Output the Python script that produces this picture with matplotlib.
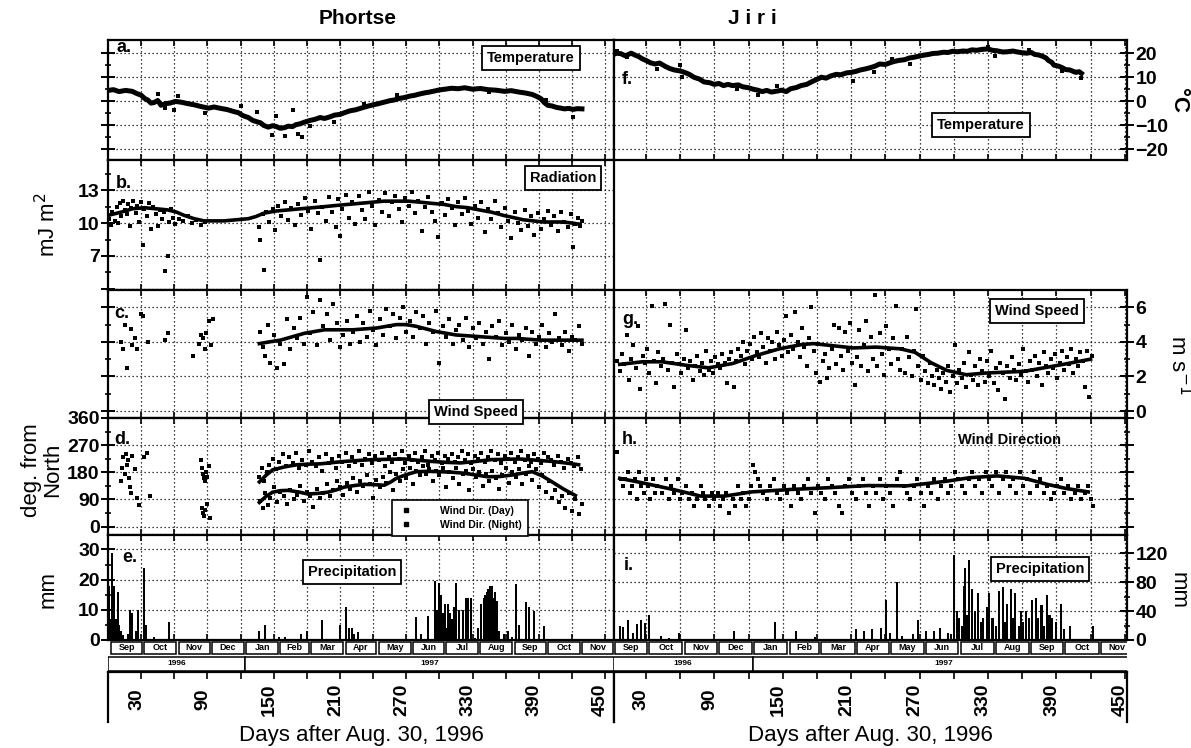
import numpy as np
import matplotlib
matplotlib.use('Agg')
import matplotlib.pyplot as plt
from matplotlib.patches import Rectangle
from matplotlib.lines import Line2D

plt.rcParams['font.family'] = ['Liberation Sans', 'DejaVu Sans']

# ---- Phortse ----
temp_p_day = [0, 5, 10, 16, 22, 26, 30, 33, 36, 39, 42, 45, 48, 52, 56, 61, 66, 72, 78, 84, 91, 96,
              102, 108, 113, 118, 122, 127, 131, 135, 138, 141, 145, 149, 152, 156, 160, 163, 167,
              170, 174, 178, 183, 187, 192, 196, 201, 205, 210, 214, 219, 224, 229, 234, 240, 245,
              250, 255, 259, 264, 268, 273, 278, 282, 287, 291, 296, 300, 305, 311, 317, 323, 330,
              337, 344, 351, 359, 365, 372, 378, 384, 388, 392, 395, 398, 402, 406, 410, 413, 417,
              421, 425, 429]
temp_p_val = [4.5, 4.8, 4.0, 4.5, 4.1, 3.2, 2.5, 1.2, 0.5, -0.8, -0.5, 0.3, -1.7, -1.0, -0.8, -0.1,
              -0.4, -1.0, -1.5, -2.2, -2.9, -2.4, -3.0, -3.5, -4.2, -4.8, -6.0, -6.8, -8.0, -8.6,
              -9.0, -10.1, -10.8, -10.2, -10.5, -11.3, -11.0, -10.4, -10.6, -9.8, -9.4, -8.7, -8.0,
              -7.6, -6.8, -7.2, -6.5, -5.8, -5.5, -4.8, -4.0, -3.6, -2.9, -2.2, -1.5, -1.0, -0.4,
              0.2, 0.5, 1.2, 1.5, 2.1, 2.5, 3.0, 3.5, 3.8, 4.3, 4.7, 5.0, 5.4, 5.2, 5.6, 5.0, 5.3,
              4.8, 4.6, 4.1, 4.4, 3.8, 3.4, 2.8, 2.0, 1.0, -0.6, -1.7, -2.0, -2.6, -2.9, -3.2, -3.0,
              -3.4, -3.1, -3.2]
temp_p_pts = [(45, 3.0), (52, -2.8), (60, -3.5), (63, 2.0), (88, -5.0), (120, -1.8), (135, -4.5),
              (148, -14.0), (152, -6.0), (160, -14.5), (167, -3.6), (172, -13.5), (176, -15.0),
              (183, -10.5), (205, -8.5), (232, -1.0), (262, 2.5), (345, 4.0), (396, 0.5), (421, -6.5)]

rad_day = [0, 12, 22, 33, 44, 54, 62, 69, 78, 87, 96, 105, 116, 127, 134, 141, 152, 163, 174, 185,
           196, 206, 217, 228, 239, 250, 261, 272, 283, 293, 304, 315, 326, 336, 347, 358, 367, 376,
           385, 394, 403, 412, 420, 427]
rad_val = [10.7, 11.0, 11.3, 11.4, 11.3, 11.2, 11.0, 10.7, 10.4, 10.2, 10.2, 10.2, 10.3, 10.4, 10.6,
           10.9, 11.1, 11.2, 11.3, 11.4, 11.5, 11.6, 11.7, 11.8, 11.9, 12.0, 12.0, 12.0, 11.9, 11.8,
           11.7, 11.5, 11.4, 11.2, 11.0, 10.7, 10.5, 10.3, 10.2, 10.1, 10.1, 10.1, 10.0, 9.9]
rad_pts = [(1, 10.4), (3, 9.8), (4, 11.0), (6, 10.2), (8, 11.5), (9, 10.0), (11, 11.8), (12, 10.6),
           (14, 12.0), (15, 11.2), (17, 10.8), (18, 11.7), (20, 9.7), (21, 11.4), (23, 12.0), (25, 10.9),
           (26, 11.6), (28, 10.1), (30, 11.9), (32, 8.0), (33, 11.3), (35, 10.6), (37, 11.8), (39, 9.5),
           (41, 11.5), (43, 10.8), (45, 9.7), (47, 11.2), (49, 10.4), (51, 11.0), (52, 5.6), (54, 7.0),
           (55, 10.1), (57, 11.3), (59, 10.5), (61, 9.9), (64, 10.4), (68, 10.2), (72, 10.6), (76, 10.0),
           (80, 10.3), (84, 9.8), (88, 10.1), (137, 9.6), (138, 8.5), (140, 10.8), (141, 5.7),
           (143, 11.0), (146, 10.1), (149, 11.3), (151, 9.4), (154, 11.6), (157, 10.6), (160, 11.9),
           (163, 10.3), (166, 11.4), (169, 9.8), (172, 11.7), (175, 10.7), (178, 12.3), (181, 11.1),
           (184, 9.5), (187, 12.0), (190, 10.9), (192, 6.6), (194, 11.5), (197, 10.2), (200, 12.4),
           (203, 11.0), (206, 9.6), (208, 12.2), (210, 8.8), (212, 11.3), (215, 12.6), (218, 10.5),
           (221, 11.9), (224, 9.9), (227, 12.5), (230, 11.2), (233, 10.4), (236, 12.8), (239, 11.6),
           (242, 9.8), (245, 12.1), (248, 11.0), (251, 12.7), (254, 10.6), (257, 11.9), (260, 12.5),
           (263, 11.3), (266, 10.1), (269, 12.3), (272, 11.6), (275, 12.8), (278, 10.9), (281, 12.0),
           (284, 9.3), (287, 11.5), (290, 12.4), (293, 11.0), (296, 10.2), (299, 8.7), (302, 11.8),
           (305, 10.7), (308, 12.2), (311, 11.4), (314, 9.8), (317, 11.9), (320, 10.8), (323, 12.3),
           (326, 11.1), (329, 9.9), (332, 11.6), (335, 10.5), (338, 11.9), (341, 9.2), (344, 11.3),
           (347, 10.4), (350, 12.0), (353, 10.9), (356, 9.6), (359, 11.4), (362, 10.2), (365, 8.6),
           (368, 11.0), (371, 10.0), (374, 9.4), (377, 11.2), (380, 9.7), (383, 10.6), (386, 8.9),
           (389, 10.9), (392, 9.5), (395, 10.4), (398, 11.1), (401, 9.8), (404, 10.6), (407, 9.3),
           (410, 11.0), (413, 10.1), (416, 9.6), (419, 10.8), (421, 7.8), (423, 9.9), (425, 10.5),
           (427, 9.7), (429, 10.2)]

ws_p_day = [137, 146, 156, 167, 178, 187, 196, 209, 222, 232, 243, 252, 261, 270, 279, 288, 297, 306,
            315, 326, 337, 348, 359, 370, 381, 392, 402, 415, 429]
ws_p_val = [3.9, 4.0, 4.1, 4.3, 4.5, 4.6, 4.7, 4.7, 4.7, 4.75, 4.8, 4.9, 5.0, 5.0, 4.9, 4.75, 4.6,
            4.5, 4.4, 4.35, 4.3, 4.25, 4.2, 4.2, 4.15, 4.1, 4.1, 4.1, 4.1]
ws_p_pts = [(12, 4.0), (14, 3.6), (15, 5.0), (17, 2.5), (21, 4.75), (22, 3.8), (24, 4.2), (26, 3.6),
            (30, 5.6), (32, 5.5), (36, 4.0), (52, 4.1), (54, 4.5), (77, 3.2), (82, 3.9), (84, 4.4),
            (86, 4.2), (88, 3.6), (89, 4.5), (91, 5.2), (93, 3.8), (95, 5.3),
            (138, 4.6), (140, 3.7), (142, 3.2), (145, 5.0), (147, 2.8), (150, 4.4), (153, 2.5),
            (156, 3.9), (159, 2.7), (162, 5.3), (165, 3.6), (168, 4.8), (171, 4.2), (174, 5.4),
            (177, 3.9), (180, 6.6), (183, 4.5), (186, 5.7), (189, 3.8), (192, 6.4), (195, 4.9),
            (198, 5.6), (201, 4.1), (204, 6.2), (207, 5.1), (210, 3.7), (213, 4.4), (216, 5.2),
            (219, 3.9), (222, 4.6), (225, 5.5), (228, 4.0), (231, 5.1), (234, 4.3), (237, 5.8),
            (240, 4.7), (243, 3.8), (246, 5.3), (249, 4.4), (252, 5.9), (255, 4.9), (258, 5.6),
            (261, 4.2), (264, 5.4), (267, 6.0), (270, 4.6), (273, 5.2), (276, 4.3), (279, 5.7),
            (282, 4.8), (285, 5.5), (288, 3.9), (291, 5.1), (294, 4.6), (297, 5.8), (300, 2.8),
            (303, 4.9), (306, 4.3), (309, 5.3), (312, 3.9), (315, 4.7), (318, 5.0), (321, 4.1),
            (324, 5.4), (327, 3.7), (330, 4.8), (333, 4.2), (336, 5.1), (339, 3.9), (342, 4.6),
            (345, 3.0), (348, 4.9), (351, 4.3), (354, 5.2), (357, 3.8), (360, 4.5), (363, 4.0),
            (366, 5.0), (369, 3.6), (372, 4.4), (375, 4.1), (378, 4.8), (381, 3.2), (384, 4.6),
            (387, 3.9), (390, 4.3), (393, 5.0), (396, 3.7), (399, 4.5), (402, 4.0), (405, 5.6),
            (408, 4.2), (411, 3.8), (414, 4.6), (417, 3.5), (420, 4.3), (423, 4.1), (426, 4.9),
            (429, 3.9)]

wd_day_d = [137, 143, 149, 160, 171, 182, 192, 203, 214, 226, 239, 253, 268, 280, 293, 306, 319,
            333, 347, 360, 373, 388, 402, 414, 426]
wd_day_v = [148, 170, 188, 198, 205, 207, 208, 212, 216, 219, 222, 223, 224, 220, 216, 213, 211,
            216, 222, 223, 224, 220, 216, 211, 205]
wd_night_d = [137, 143, 149, 156, 163, 172, 181, 190, 199, 207, 214, 223, 232, 241, 250, 256, 261,
              270, 279, 290, 301, 312, 322, 333, 344, 355, 366, 375, 384, 393, 402, 412, 423]
wd_night_v = [80, 100, 114, 119, 120, 115, 108, 110, 114, 122, 131, 136, 140, 139, 137, 148, 160,
              172, 182, 183, 182, 180, 177, 171, 165, 166, 171, 177, 182, 168, 148, 125, 103]
wd_p_pts = [(12, 150), (13, 195), (14, 230), (15, 175), (16, 240), (17, 205), (18, 220), (19, 160),
            (20, 130), (21, 110), (22, 235), (24, 190), (26, 95), (28, 70), (33, 230), (35, 245),
            (38, 100), (84, 220), (85, 195), (86, 175), (87, 160), (88, 150), (89, 180), (90, 165),
            (91, 200), (85, 60), (86, 45), (87, 35), (88, 55), (90, 75), (92, 30),
            (137, 165), (138, 85), (139, 195), (140, 60), (141, 150), (142, 110), (144, 180), (145, 70),
            (146, 205), (147, 95), (149, 225), (150, 130), (152, 190), (153, 80), (155, 215), (156, 115),
            (158, 240), (159, 100), (161, 200), (162, 75), (164, 230), (165, 120), (167, 210), (168, 90),
            (170, 245), (171, 105), (173, 195), (174, 135), (176, 220), (177, 85), (179, 205), (180, 115),
            (182, 250), (183, 100), (185, 215), (186, 65), (188, 200), (189, 125), (191, 230), (192, 95),
            (194, 185), (195, 110), (197, 240), (198, 140), (200, 210), (201, 100), (203, 225), (204, 120),
            (206, 195), (207, 150), (209, 235), (210, 130), (212, 215), (213, 105), (215, 245), (216, 145),
            (218, 200), (219, 125), (221, 230), (222, 160), (224, 215), (225, 115), (227, 250), (228, 150),
            (230, 205), (231, 135), (233, 225), (234, 170), (236, 240), (237, 140), (239, 210), (240, 95),
            (242, 235), (243, 155), (245, 220), (246, 130), (248, 245), (249, 165), (251, 200), (252, 145),
            (254, 230), (255, 180), (257, 215), (258, 120), (260, 240), (261, 175), (263, 225), (264, 150),
            (266, 250), (267, 190), (269, 210), (270, 160), (272, 235), (273, 195), (275, 220), (276, 140),
            (278, 245), (279, 185), (281, 215), (282, 170), (284, 230), (285, 200), (287, 250), (288, 175),
            (290, 205), (291, 190), (293, 235), (294, 150), (296, 220), (297, 185), (299, 245), (300, 170),
            (302, 210), (303, 195), (305, 235), (306, 130), (308, 225), (309, 180), (311, 240), (312, 160),
            (314, 215), (315, 195), (317, 230), (318, 140), (320, 250), (321, 175), (323, 220), (324, 185),
            (326, 240), (327, 120), (329, 210), (330, 190), (332, 235), (333, 165), (335, 225), (336, 180),
            (338, 245), (339, 135), (341, 215), (342, 175), (344, 230), (345, 150), (347, 250), (348, 185),
            (350, 220), (351, 160), (353, 240), (354, 125), (356, 210), (357, 170), (359, 235), (360, 195),
            (362, 225), (363, 145), (365, 245), (366, 180), (368, 215), (369, 165), (371, 230), (372, 190),
            (374, 250), (375, 140), (377, 220), (378, 175), (380, 235), (381, 200), (383, 215), (384, 155),
            (386, 240), (387, 190), (389, 225), (390, 130), (392, 210), (393, 170), (395, 245), (396, 115),
            (398, 230), (399, 150), (401, 220), (402, 95), (404, 205), (405, 120), (407, 235), (408, 80),
            (410, 215), (411, 100), (413, 195), (414, 60), (416, 225), (417, 110), (419, 210), (420, 50),
            (422, 200), (423, 90), (425, 230), (426, 40), (428, 190), (429, 75)]

prec_p_day = [1, 2, 4, 5, 7, 9, 10, 12, 14, 18, 20, 22, 25, 27, 33, 34, 42, 55, 137, 142, 155, 160,
              175, 180, 194, 210, 215, 218, 221, 223, 226, 279, 283, 290, 296, 298, 300, 301, 303, 305,
              306, 308, 310, 311, 313, 315, 318, 321, 324, 326, 329, 332, 335, 338, 340, 341, 342, 343,
              344, 345, 346, 347, 348, 349, 350, 351, 352, 354, 358, 362, 366, 369, 372, 378, 381, 386, 395]
prec_p_val = [18, 7, 29, 18, 7, 16, 5, 3, 1.5, 2, 10, 9, 3, 10, 24, 5, 1, 6, 3, 5, 1, 1,
              2, 3, 6.5, 5, 11, 4, 4, 2, 2.5, 7.5, 2, 8, 19.5, 10, 19, 15, 9, 12,
              4, 12, 9, 7, 11, 19, 10, 10, 14, 14, 14, 0.5, 4, 12, 14, 15, 13, 16,
              17, 16, 18, 15, 18, 14, 16, 12, 13, 3, 2, 3, 1, 18.5, 5, 12.5, 11, 9.5, 4.5]

# ---- Jiri ----
temp_j_day = [0, 4, 8, 12, 17, 21, 24, 27, 30, 34, 38, 42, 47, 51, 55, 60, 64, 68, 72, 77, 81, 86,
              90, 94, 98, 102, 106, 111, 115, 120, 124, 128, 132, 136, 140, 145, 149, 153, 157, 162,
              166, 171, 175, 180, 184, 188, 192, 197, 201, 206, 210, 214, 218, 223, 227, 231, 235,
              240, 244, 248, 252, 257, 261, 265, 269, 274, 278, 282, 286, 291, 295, 299, 303, 308,
              312, 316, 320, 325, 330, 334, 338, 343, 347, 352, 356, 360, 364, 368, 371, 375, 378,
              381, 383, 386, 388, 392, 395, 398, 402, 405, 407, 410, 412]
temp_j_val = [19.0, 20.0, 19.8, 18.9, 20.0, 19.1, 18.5, 17.6, 17.0, 16.0, 15.5, 15.9, 14.5, 13.6,
              13.0, 12.6, 12.0, 11.2, 10.0, 9.2, 8.0, 7.7, 7.0, 7.4, 6.5, 7.0, 6.5, 6.8, 6.0, 5.6,
              5.0, 4.6, 4.0, 4.5, 3.8, 4.2, 4.6, 4.0, 5.2, 5.7, 6.5, 7.0, 8.0, 9.1, 10.0, 9.6, 10.5,
              11.2, 11.0, 11.8, 12.0, 12.4, 13.0, 13.5, 14.0, 14.6, 15.5, 15.3, 16.0, 16.6, 17.0,
              17.3, 18.0, 18.3, 18.7, 19.2, 19.5, 19.9, 20.0, 20.4, 20.3, 20.8, 20.6, 20.9, 20.8,
              21.4, 21.2, 21.6, 21.8, 21.2, 21.0, 20.5, 20.6, 20.9, 20.5, 20.2, 20.0, 20.3, 19.5,
              19.2, 18.7, 18.0, 17.0, 16.2, 15.0, 14.6, 14.0, 13.2, 13.0, 12.4, 12.0, 12.3, 11.6]
temp_j_pts = [(5, 21.0), (13, 18.5), (40, 13.5), (60, 15.0), (62, 10.0), (110, 5.0), (128, 2.5),
              (145, 6.5), (212, 8.5), (230, 12.0), (246, 17.5), (262, 15.5), (330, 22.5), (336, 19.0),
              (366, 21.5), (395, 12.5), (412, 9.5)]

ws_j_day = [7, 27, 44, 65, 85, 106, 126, 147, 167, 177, 191, 212, 232, 253, 266, 280, 294, 311, 328,
            345, 362, 379, 396, 420]
ws_j_val = [2.7, 2.85, 2.85, 2.65, 2.5, 2.75, 3.2, 3.6, 3.85, 3.9, 3.8, 3.65, 3.7, 3.6, 3.4, 2.8,
            2.35, 2.1, 2.2, 2.25, 2.3, 2.5, 2.7, 3.0]
ws_j_pts = [(5, 2.9), (7, 2.3), (9, 3.3), (11, 2.7), (13, 4.4), (15, 1.8), (17, 3.0), (19, 3.8),
            (21, 2.5), (23, 4.9), (25, 1.3), (27, 3.2), (29, 2.8), (31, 3.6), (33, 2.2), (35, 6.1),
            (37, 2.9), (39, 1.6), (41, 3.4), (43, 2.6), (45, 3.0), (47, 6.2), (49, 2.4), (51, 5.0),
            (53, 2.8), (55, 1.4), (57, 3.3), (59, 2.7), (61, 2.2), (63, 3.0), (65, 4.7), (67, 2.5),
            (69, 2.9), (71, 1.8), (73, 2.6), (75, 3.2), (77, 2.3), (79, 2.8), (81, 2.1), (83, 3.5),
            (85, 2.4), (87, 2.9), (89, 2.2), (91, 3.1), (93, 2.7), (95, 2.5), (97, 3.3), (99, 2.8),
            (101, 1.6), (103, 3.0), (105, 3.4), (107, 1.4), (109, 2.9), (111, 3.6), (113, 3.2),
            (115, 4.0), (117, 2.7), (119, 3.5), (121, 3.9), (123, 3.0), (125, 4.3), (127, 3.4),
            (129, 3.1), (131, 4.5), (133, 3.7), (135, 2.8), (137, 4.2), (139, 3.5), (141, 4.0),
            (143, 3.0), (145, 4.6), (147, 3.8), (149, 3.2), (151, 4.1), (153, 5.5), (155, 3.4),
            (157, 4.4), (159, 3.6), (161, 5.7), (163, 4.0), (165, 3.1), (167, 4.8), (169, 3.7),
            (171, 2.6), (173, 4.2), (175, 6.0), (177, 3.5), (179, 2.2), (181, 3.9), (183, 1.7),
            (185, 2.9), (187, 3.3), (189, 1.9), (191, 2.5), (193, 3.6), (195, 5.0), (197, 2.7),
            (199, 4.8), (201, 3.2), (203, 2.4), (205, 4.6), (207, 3.5), (209, 5.1), (211, 2.8),
            (213, 1.5), (215, 3.1), (217, 4.7), (219, 2.6), (221, 3.8), (223, 5.2), (225, 2.3),
            (227, 4.3), (229, 3.0), (231, 6.7), (233, 2.6), (235, 4.5), (237, 3.3), (239, 2.1),
            (241, 4.9), (243, 3.6), (245, 2.7), (247, 4.2), (249, 6.1), (251, 3.0), (253, 2.4),
            (255, 3.6), (257, 2.2), (259, 4.3), (261, 3.1), (263, 2.0), (265, 3.5), (267, 5.9),
            (269, 2.6), (271, 1.8), (273, 3.2), (275, 2.3), (277, 1.6), (279, 2.8), (281, 2.0),
            (283, 1.5), (285, 2.4), (287, 1.9), (289, 1.3), (291, 2.2), (293, 1.7), (295, 2.6),
            (297, 1.1), (299, 2.0), (301, 3.8), (303, 1.6), (305, 2.4), (307, 1.9), (309, 2.8),
            (311, 1.4), (313, 3.4), (315, 2.1), (317, 1.8), (319, 2.6), (321, 1.5), (323, 3.0),
            (325, 2.3), (327, 1.7), (329, 2.9), (331, 2.0), (333, 3.5), (335, 1.6), (337, 2.5),
            (339, 1.2), (341, 2.8), (343, 2.2), (345, 0.7), (347, 2.6), (349, 1.9), (351, 3.1),
            (353, 2.4), (355, 1.8), (357, 2.7), (359, 2.1), (361, 3.6), (363, 2.3), (365, 1.7),
            (367, 2.9), (369, 2.4), (371, 3.2), (373, 2.0), (375, 2.8), (377, 1.5), (379, 3.4),
            (381, 2.6), (383, 2.2), (385, 3.0), (387, 2.5), (389, 3.3), (391, 1.9), (393, 2.8),
            (395, 3.5), (397, 2.4), (399, 3.1), (401, 2.7), (403, 3.6), (405, 2.2), (407, 3.0),
            (409, 2.6), (411, 3.4), (413, 2.9), (415, 1.4), (417, 3.5), (419, 0.8), (421, 3.2)]

wd_j_day = [7, 27, 55, 78, 99, 123, 157, 191, 225, 259, 293, 314, 338, 362, 382, 399, 418]
wd_j_val = [160, 145, 122, 101, 101, 115, 123, 129, 136, 135, 150, 162, 168, 160, 140, 126, 115]
wd_j_pts = [(5, 247.5), (8, 157.5), (10, 135), (12, 157.5), (14, 180), (16, 112.5), (18, 135),
            (20, 157.5), (22, 90), (24, 180), (26, 135), (28, 112.5), (30, 157.5), (32, 135), (34, 90),
            (36, 157.5), (38, 112.5), (40, 135), (44, 112.5), (48, 157.5), (50, 90), (52, 135),
            (55, 112.5), (58, 157.5), (60, 90), (62, 112.5), (65, 135), (68, 90), (70, 112.5),
            (72, 67.5), (75, 90), (78, 135), (80, 112.5), (82, 90), (85, 67.5), (88, 112.5), (90, 90),
            (93, 112.5), (95, 67.5), (98, 90), (100, 112.5), (103, 45), (106, 90), (108, 67.5),
            (111, 135), (113, 90), (115, 112.5), (118, 67.5), (120, 90), (122, 135), (124, 202.5),
            (126, 180), (128, 157.5), (130, 135), (133, 112.5), (136, 90), (139, 135), (142, 157.5),
            (145, 112.5), (148, 90), (151, 135), (154, 112.5), (157, 67.5), (160, 135), (163, 112.5),
            (166, 90), (169, 135), (172, 157.5), (175, 112.5), (178, 45), (181, 135), (184, 112.5),
            (187, 90), (190, 157.5), (193, 135), (196, 112.5), (199, 67.5), (202, 45), (205, 135),
            (208, 157.5), (211, 112.5), (214, 90), (217, 135), (220, 157.5), (223, 112.5), (226, 67.5),
            (229, 135), (232, 112.5), (235, 157.5), (238, 90), (241, 135), (244, 112.5), (247, 67.5),
            (250, 157.5), (253, 180), (256, 135), (259, 112.5), (262, 90), (265, 135), (268, 157.5),
            (271, 112.5), (274, 67.5), (277, 135), (280, 112.5), (283, 157.5), (286, 90), (289, 135),
            (292, 157.5), (295, 112.5), (298, 135), (301, 180), (304, 157.5), (307, 135), (310, 112.5),
            (313, 157.5), (316, 180), (319, 135), (322, 157.5), (325, 112.5), (328, 180), (331, 157.5),
            (334, 135), (337, 180), (340, 112.5), (343, 157.5), (346, 180), (349, 135), (352, 157.5),
            (355, 112.5), (358, 180), (361, 135), (364, 157.5), (367, 112.5), (370, 180), (373, 135),
            (376, 157.5), (379, 112.5), (382, 135), (385, 90), (388, 112.5), (391, 135), (394, 157.5),
            (397, 112.5), (400, 135), (403, 90), (406, 112.5), (409, 135), (412, 90), (415, 112.5),
            (418, 135), (420, 90), (422, 67.5)]

prec_j_day = [7, 10, 14, 19, 22, 26, 29, 33, 43, 50, 59, 107, 143, 162, 178, 197, 214, 221, 228, 236,
              241, 244, 250, 255, 264, 269, 276, 283, 288, 295, 298, 300, 303, 305, 307, 309, 310, 312,
              313, 316, 319, 321, 324, 326, 329, 331, 334, 337, 340, 343, 345, 347, 350, 352, 354, 357,
              359, 361, 363, 366, 369, 372, 374, 377, 379, 382, 384, 386, 390, 394, 397, 402, 422]
prec_j_val = [20, 18, 28, 10, 22, 28, 24, 35, 5, 3, 10, 12, 25, 13, 4, 2, 15, 13, 15, 17,
              55, 10, 80, 5, 8, 28, 12, 13, 17, 10, 8, 118, 40, 30, 20, 75, 100, 35,
              110, 70, 40, 65, 25, 30, 45, 65, 30, 20, 68, 73, 25, 50, 70, 30, 65, 20,
              40, 25, 40, 30, 55, 58, 30, 48, 20, 62, 35, 30, 25, 50, 15, 20, 20]

# calendar strip under the panels (day 0 = Aug 30, 1996)
month_names = ['Sep', 'Oct', 'Nov', 'Dec', 'Jan', 'Feb', 'Mar', 'Apr', 'May', 'Jun', 'Jul', 'Aug',
               'Sep', 'Oct', 'Nov']
month_start = [2, 32, 63, 93, 124, 155, 183, 214, 244, 275, 305, 336, 367, 397, 428, 458]
year_names = ['1996', '1997']
year_start = [0, 124, 458]
day_labels = [30, 90, 150, 210, 270, 330, 390, 450]

W, H = 1191, 748
fig = plt.figure(figsize=(W / 100, H / 100), dpi=100)


def box(x0, y0, x1, y1):
    return [x0 / W, 1 - y1 / H, (x1 - x0) / W, (y1 - y0) / H]


def ftext(x, y, s, **kw):
    fig.text(x / W, 1 - y / H, s, **kw)


COLS = {'L': (108, 614, (0, 458)), 'R': (614, 1127, (2, 452))}
ROWS = [(40, 160), (160, 290), (290, 418), (418, 535), (535, 640)]
GRID = dict(color='black', ls=(0, (1, 2.2)), lw=0.9)


def panel(col, row, ylim, yticks, labels=True, minor=None):
    x0, x1, xl = COLS[col]
    y0, y1 = ROWS[row]
    ax = fig.add_axes(box(x0, y0, x1, y1))
    ax.set_xlim(xl)
    ax.set_ylim(ylim)
    ax.set_xticks(np.arange(30, 451, 30))
    ax.set_xticklabels([])
    ax.set_yticks(yticks)
    if minor is not None:
        ax.set_yticks(minor, minor=True)
    ax.grid(True, **GRID)
    ax.set_axisbelow(True)
    for sp in ax.spines.values():
        sp.set_linewidth(1.6)
    ax.tick_params(axis='x', direction='in', length=4, width=1.2, top=True)
    side = 'left' if col == 'L' else 'right'
    ax.yaxis.set_ticks_position(side)
    ax.tick_params(axis='y', which='major', direction='inout', length=10, width=1.4,
                   labelsize=14, pad=1)
    ax.tick_params(axis='y', which='minor', direction='inout', length=5, width=1.2)
    if labels:
        for t in ax.get_yticklabels():
            t.set_fontweight('bold')
    else:
        ax.set_yticklabels([])
    return ax


def tag(ax, x, y, s, boxed=True):
    kw = dict(fontsize=10.5, fontweight='bold', ha='center', va='center', zorder=6)
    if boxed:
        kw['bbox'] = dict(boxstyle='square,pad=0.35', fc='white', ec='black', lw=1.3)
    ftext(x, y, s, **kw)


def dots(ax, pts, s=7):
    d, v = np.array(pts).T
    ax.scatter(d, v, s=s, c='black', marker='s', lw=0, zorder=3)


# a. Phortse temperature
ax = panel('L', 0, (-24.5, 25.5), [-20, -10, 0, 10, 20], labels=False, minor=[-15, -5, 5, 15])
ax.plot(temp_p_day, temp_p_val, color='black', lw=3.6, zorder=4)
dots(ax, temp_p_pts, 9)
tag(ax, 531, 58, 'Temperature')

# b. Phortse radiation
ax = panel('L', 1, (3.9, 15.75), [7, 10, 13], minor=[5.5, 8.5, 11.5, 14.5])
ax.set_yticks([4, 7, 10, 13])
ax.set_yticklabels(['', '7', '10', '13'], fontweight='bold')
ax.plot(rad_day, rad_val, color='black', lw=2.6, zorder=4)
dots(ax, rad_pts)
tag(ax, 563, 178, 'Radiation')

# c. Phortse wind speed
ax = panel('L', 2, (-0.4, 7.0), [0, 2, 4, 6], labels=False, minor=[1, 3, 5])
ax.plot(ws_p_day, ws_p_val, color='black', lw=2.6, zorder=4)
dots(ax, ws_p_pts)
tag(ax, 476, 412, 'Wind Speed')

# d. Phortse wind direction
ax = panel('L', 3, (-28, 360), [0, 90, 180, 270, 360], minor=[45, 135, 225, 315])
ax.plot(wd_day_d, wd_day_v, color='black', lw=2.6, zorder=4)
ax.plot(wd_night_d, wd_night_v, color='black', lw=2.6, zorder=4)
dots(ax, wd_p_pts)
hl = [Line2D([], [], ls='none', marker='s', ms=2.5, color='black'),
      Line2D([], [], ls='none', marker='s', ms=2.5, color='black')]
leg = fig.legend(hl, ['Wind Dir. (Day)', 'Wind Dir. (Night)'], loc='center',
                 bbox_to_anchor=(460 / W, 1 - 518 / H), fancybox=False, framealpha=1,
                 edgecolor='black', prop={'size': 7.5, 'weight': 'bold'}, handletextpad=2.5,
                 borderpad=0.6, labelspacing=0.4, handlelength=1.5)
leg.get_frame().set_linewidth(1.2)
leg.set_zorder(10)

# e. Phortse precipitation
ax = panel('L', 4, (0, 34.8), [0, 10, 20, 30], minor=[5, 15, 25])
ax.bar(prec_p_day, prec_p_val, width=1.8, color='black', zorder=3)
tag(ax, 352, 572, 'Precipitation')

# f. Jiri temperature
ax = panel('R', 0, (-24.5, 25.5), [-20, -10, 0, 10, 20], minor=[-15, -5, 5, 15])
ax.plot(temp_j_day, temp_j_val, color='black', lw=3.6, zorder=4)
dots(ax, temp_j_pts, 9)
tag(ax, 981, 125, 'Temperature')

# g. Jiri wind speed
ax = panel('R', 2, (-0.4, 7.0), [0, 2, 4, 6], minor=[1, 3, 5])
ax.plot(ws_j_day, ws_j_val, color='black', lw=2.6, zorder=4)
dots(ax, ws_j_pts)
tag(ax, 1037, 311, 'Wind Speed')

# h. Jiri wind direction
ax = panel('R', 3, (-28, 360), [0, 90, 180, 270, 360], labels=False, minor=[45, 135, 225, 315])
ax.plot(wd_j_day, wd_j_val, color='black', lw=2.6, zorder=4)
dots(ax, wd_j_pts)
tag(ax, 1010, 440, 'Wind Direction', boxed=False)

# i. Jiri precipitation
ax = panel('R', 4, (0, 145), [0, 40, 80, 120], minor=[20, 60, 100])
ax.bar(prec_j_day, prec_j_val, width=1.8, color='black', zorder=3)
tag(ax, 1040, 569, 'Precipitation')

# panel letters
for x, y, s in [(124, 48, 'a.'), (124, 183, 'b.'), (122, 313, 'c.'), (122, 440, 'd.'),
                (130, 557, 'e.'), (627, 80, 'f.'), (630, 320, 'g.'), (630, 440, 'h.'),
                (629, 566, 'i.')]:
    ftext(x, y, s, fontsize=13, fontweight='bold', ha='center', va='center')

# calendar strips and day axis for both columns
for col in ['L', 'R']:
    x0, x1, xl = COLS[col]
    ma = fig.add_axes(box(x0, 640, x1, 656))
    ma.set_xlim(xl)
    ma.set_ylim(0, 1)
    ma.axis('off')
    for i, name in enumerate(month_names):
        a, b = month_start[i] + 1, month_start[i + 1] - 1
        ma.add_patch(Rectangle((a, 0.1), b - a, 0.8, fc='white', ec='black', lw=1.1))
        ma.text((a + b) / 2, 0.5, name, fontsize=6.5, fontweight='bold', ha='center',
                va='center', clip_on=True)
    ya = fig.add_axes(box(x0, 656, x1, 672))
    ya.set_xlim(xl)
    ya.set_ylim(0, 1)
    ya.axis('off')
    for i, name in enumerate(year_names):
        a, b = year_start[i], year_start[i + 1]
        ya.add_patch(Rectangle((a, 0.05), b - a, 0.9, fc='white', ec='black', lw=1.1))
        ya.text((a + b) / 2, 0.55, name, fontsize=6, fontweight='bold', ha='center', va='center')
    ta = fig.add_axes(box(x0, 672, x1, 722))
    ta.set_xlim(xl)
    ta.set_ylim(0, 1)
    ta.set_yticks([])
    ta.set_xticks(np.arange(30, 451, 30))
    ta.set_xticklabels([])
    ta.tick_params(axis='x', direction='in', length=5, width=1.2, bottom=False, top=True)
    ta.spines['bottom'].set_visible(False)
    for sp in ta.spines.values():
        sp.set_linewidth(1.6)
    for d in day_labels:
        ta.text(d - 4, 0.45, str(d), rotation=90, fontsize=14, fontweight='bold',
                ha='center', va='center')
    ftext((x0 + x1) / 2, 735, 'Days after Aug. 30, 1996', fontsize=16, ha='center', va='center')

# titles and axis units
ftext(358, 18, 'Phortse', fontsize=15, fontweight='bold', ha='center', va='center')
ftext(752, 18, 'J i r i', fontsize=15, fontweight='bold', ha='center', va='center')
ftext(48, 225, 'mJ m$^{2}$', fontsize=16, rotation=90, ha='center', va='center')
ftext(42, 470, 'deg. from\nNorth', fontsize=16, rotation=90, ha='center', va='center',
      linespacing=1.0)
ftext(48, 590, 'mm', fontsize=16, rotation=90, ha='center', va='center')
ftext(1178, 100, '°C', fontsize=16, fontweight='bold', rotation=270, ha='center', va='center')
ftext(1178, 365, 'm s$^{-1}$', fontsize=16, rotation=270, ha='center', va='center')
ftext(1178, 590, 'mm', fontsize=16, rotation=270, ha='center', va='center')

fig.savefig('out.png', dpi=100)
